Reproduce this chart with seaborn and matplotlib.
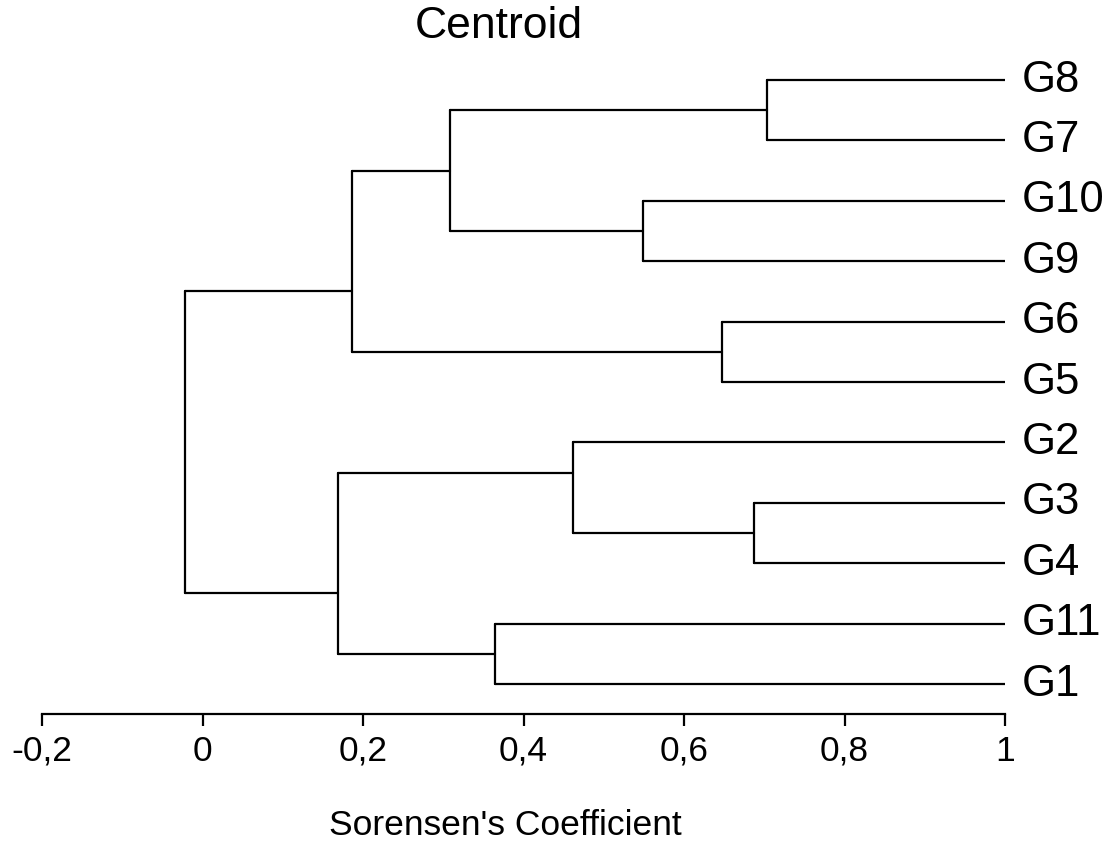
import matplotlib
matplotlib.use("Agg")
import matplotlib.pyplot as plt
import seaborn as sns
import pandas as pd

# ---- data ----
leaves = ["G8", "G7", "G10", "G9", "G6", "G5", "G2", "G3", "G4", "G11", "G1"]
merge_names = ["A", "B", "C", "D", "E", "F", "H", "I", "J", "K"]
merge_left = ["G8", "G10", "A", "G6", "C", "G3", "G2", "G11", "H", "E"]
merge_right = ["G7", "G9", "B", "G5", "D", "G4", "F", "G1", "I", "J"]
merge_height = [0.703, 0.549, 0.308, 0.647, 0.186, 0.687, 0.462, 0.364, 0.169, -0.022]
xticks = [-0.2, 0, 0.2, 0.4, 0.6, 0.8, 1]
xtick_labels = ["-0,2", "0", "0,2", "0,4", "0,6", "0,8", "1"]
title = "Centroid"
xlabel = "Sorensen's Coefficient"

sns.set_style("white")
plt.rcParams["font.family"] = ["Liberation Sans", "DejaVu Sans"]
plt.rcParams["text.color"] = "black"
plt.rcParams["xtick.color"] = "black"
plt.rcParams["axes.labelcolor"] = "black"

# ---- build dendrogram segments ----
pos = {name: float(i) for i, name in enumerate(leaves)}
xval = {name: 1.0 for name in leaves}
depth = {name: 0 for name in leaves}
rows = []
seg = 0
for name, l, r, h in zip(merge_names, merge_left, merge_right, merge_height):
    wl = 2.0 ** (-depth[l])
    wr = 2.0 ** (-depth[r])
    pos[name] = (pos[l] * wl + pos[r] * wr) / (wl + wr)
    xval[name] = h
    depth[name] = max(depth[l], depth[r]) + 1
    # vertical
    rows += [(seg, h, pos[l]), (seg, h, pos[r])]
    seg += 1
    for c in (l, r):
        rows += [(seg, h, pos[c]), (seg, xval[c], pos[c])]
        seg += 1

df = pd.DataFrame(rows, columns=["seg", "x", "y"])

fig = plt.figure(figsize=(11.15, 8.43), dpi=100)
W, H = 1115, 843
ax = fig.add_axes([42 / W, (H - 714) / H, (1005 - 42) / W, (714 - 60) / H])

sns.lineplot(data=df, x="x", y="y", units="seg", estimator=None, sort=False,
             color="black", linewidth=1.6, ax=ax, legend=False)

ax.set_xlim(-0.2, 1.0)
spacing = (684 - 80) / 10
ax.set_ylim(10 + (714 - 684) / spacing, -(80 - 60) / spacing)

for s in ["top", "right", "left"]:
    ax.spines[s].set_visible(False)
ax.spines["bottom"].set_linewidth(1.6)
ax.spines["bottom"].set_color("black")
ax.set_yticks([])
ax.set_xticks(xticks)
ax.set_xticklabels(xtick_labels, fontsize=25.5, color="black")
ax.tick_params(axis="x", direction="out", length=8.6, width=1.6, pad=6.5,
               colors="black", bottom=True)
ax.set_xlabel("")
ax.set_ylabel("")

for name in leaves:
    ax.annotate(name, xy=(1.0, pos[name]), xytext=(12.2, 0),
                textcoords="offset points", ha="left", va="center",
                fontsize=31.5, color="black", annotation_clip=False)

fig.text(498.5 / W, 1 - 27 / H, title, ha="center", va="center", fontsize=32,
         color="black")
fig.text(505 / W, 1 - 835 / H, xlabel, ha="center", va="baseline", fontsize=25.5,
         color="black")

fig.savefig("out.png", dpi=100, facecolor="white")
